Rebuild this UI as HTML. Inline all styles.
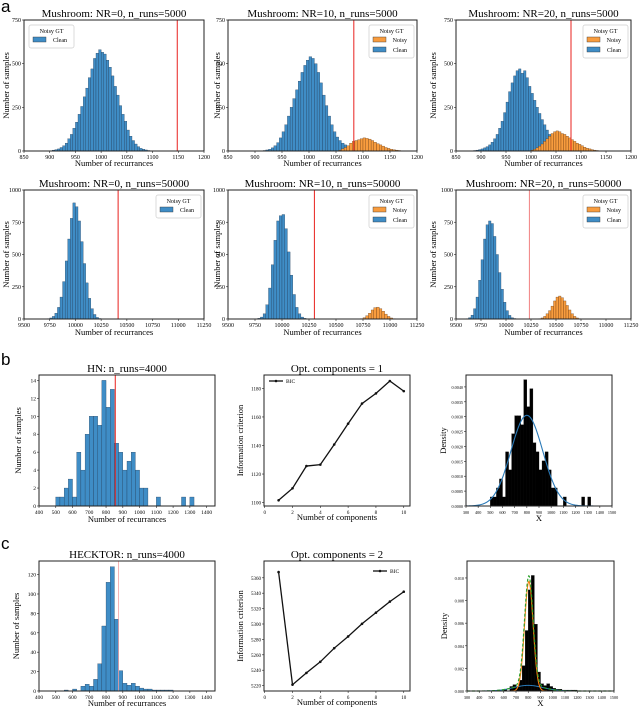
<!DOCTYPE html>
<html><head><meta charset="utf-8"><style>
html,body{margin:0;padding:0;background:#fff;}
svg{display:block;font-family:"Liberation Serif",serif;}
.lab{font-family:"Liberation Sans",sans-serif;font-size:17px;position:absolute;}
</style></head><body>
<div style="position:relative;width:640px;height:710px;">
<div class="lab" style="left:1px;top:-3px">a</div>
<div class="lab" style="left:1px;top:350px">b</div>
<div class="lab" style="left:1px;top:534px">c</div>
<svg id="fig" width="640" height="710" viewBox="0 0 640 710"></svg>
</div>
<script>
// ---------- data ----------
const A1_clean_start=905, A1_step=5;
const A1_clean=[5,8,12,20,30,45,70,95,130,165,210,255,310,360,420,470,530,560,580,565,555,520,480,430,370,320,260,210,170,120,85,60,40,25,15,10,6,3];
const A2_clean_start=915;
const A2_clean=[3,6,10,18,30,48,75,110,150,200,250,300,350,400,450,490,520,540,530,500,450,390,320,260,200,150,110,80,60,45,35,25,15,8,4];
const A2_noisy_start=1055;
const A2_noisy=[5,12,20,30,45,55,60,65,70,75,72,68,60,50,42,35,28,20,15,10,7,5,3,2,1];
const A3_clean_start=880;
const A3_clean=[2,3,5,8,12,18,25,35,50,70,95,130,170,220,280,340,390,430,460,470,445,460,420,370,330,290,250,215,180,150,120,95,75,55,40,28,18,12,8,5,3,2,1,1,0];
const A3_noisy_start=1000;
const A3_noisy=[5,10,18,28,40,55,70,85,100,110,115,110,100,95,85,75,65,55,45,38,30,22,16,12,8,5,3,2,1,1];
const B_step=25;
const B1_clean_start=9725;
const B1_clean=[3,8,20,45,90,170,290,450,620,780,900,870,760,600,430,280,160,80,35,12,4,2,1];
const B2_clean_start=9775;
const B2_clean=[5,15,40,110,240,420,610,760,800,810,700,520,340,190,90,40,15,5];
const B2_noisy_start=10725;
const B2_noisy=[3,10,25,45,70,88,92,80,60,38,20,8,3,1];
const B3_clean_start=9600;
const B3_clean=[3,10,30,80,170,300,460,620,730,760,740,640,500,360,230,130,65,28,10,4];
const B3_noisy_start=10325;
const B3_noisy=[3,8,20,40,65,100,140,170,178,165,140,105,70,40,20,8,3,1];
const redLinesA=[1148,1083,1080];
const redLinesB=[10415,10300,10234];
const HN_start=500, HN_step=25;
const HN_counts=[1,1,2,3,1,6,4,8,10,10,9,14,11,13,7,6,4,5,6,4,2,2,0,0,1,0,0,0,0,0,1,0,1];
const HN_red=855;
const HEC_start=550, HEC_step=25;
const HEC_counts=[1,0,2,0,5,7,5,12,28,67,112,128,74,21,8,6,8,5,3,2,2,1,1,1,1,1];
const HEC_red=875;
const comps=[1,2,3,4,5,6,7,8,9,10];
const BIC_HN=[1101.6,1110,1125.6,1126.6,1140.7,1155.3,1169.4,1176.5,1185.2,1178.1];
const BIC_HEC=[5367.4,5221.2,5236.5,5250.9,5268.6,5283.8,5300.3,5314.7,5329.1,5341.9];
const HN_fit_mean=[800], HN_fit_sd=[131], HN_fit_w=[1];
const HEC_fit_mean=[805,800], HEC_fit_sd=[35,120], HEC_fit_w=[0.85,0.15];
const ticksA_x=[850,900,950,1000,1050,1100,1150,1200];
const ticksA_y=[0,250,500,750];
const ticksB_x=[9500,9750,10000,10250,10500,10750,11000,11250];
const ticksB_y=[0,250,500,750,1000];
const ticksHist_x=[400,500,600,700,800,900,1000,1100,1200,1300,1400];
const ticksHN_y=[0,2,4,6,8,10,12,14];
const ticksHEC_y=[0,20,40,60,80,100,120];
const ticksComp_x=[0,2,4,6,8,10];
const ticksBICHN_y=[1100,1120,1140,1160,1180];
const ticksBICHEC_y=[5220,5240,5260,5280,5300,5320,5340,5360];
const ticksDens_x=[300,400,500,600,700,800,900,1000,1100,1200,1300,1400,1500];
const ticksDensHN_y=[0,0.0005,0.001,0.0015,0.002,0.0025,0.003,0.0035,0.004];
const ticksDensHEC_y=[0,0.002,0.004,0.006,0.008,0.010];

// ---------- helpers ----------
const NS='http://www.w3.org/2000/svg';
const svg=document.getElementById('fig');
function make(tag,attrs,parent){const e=document.createElementNS(NS,tag);for(const k in attrs)e.setAttribute(k,attrs[k]);(parent||svg).appendChild(e);return e;}
function txt(s,x,y,size,anchor,rot,parent){const e=make('text',{x:x,y:y,'font-size':size,'text-anchor':anchor||'middle'},parent);if(rot)e.setAttribute('transform','rotate(-90 '+x+' '+y+')');e.textContent=s;return e;}
const BLUE='#3f8dc6', ORANGE='#f89c3e';

function axes(p){
  const g=make('g',{});
  
  
  const sx=v=>p.x0+(v-p.xd[0])/(p.xd[1]-p.xd[0])*(p.x1-p.x0);
  const sy=v=>p.y1-(v-p.yd[0])/(p.yd[1]-p.yd[0])*(p.y1-p.y0);
  const plot=make('g',{},g);
  
  
  const over=make('g',{},g);
  const frame=make('rect',{x:p.x0,y:p.y0,width:p.x1-p.x0,height:p.y1-p.y0,fill:'none',stroke:'#222','stroke-width':1},over);
  
  
  p.xt.forEach(v=>{
    const X=sx(v);
    const tk=make('line',{x1:X,x2:X,y1:p.y1,y2:p.y1+2,stroke:'#222','stroke-width':0.6},over);
    
    
    const t=txt(p.xf?p.xf(v):String(v),X,p.y1+8,p.tfs||6,'middle',false,over);
    
    
  });
  p.yt.forEach(v=>{
    const Y=sy(v);
    const tk=make('line',{x1:p.x0-2,x2:p.x0,y1:Y,y2:Y,stroke:'#222','stroke-width':0.6},over);
    
    
    const t=txt(p.yf?p.yf(v):String(v),p.x0-3,Y+2,p.tfs||6,'end',false,over);
    
    
  });
  const ti=txt(p.title,(p.x0+p.x1)/2,p.y0-3,11,'middle',false,over);
  
  
  const xl=txt(p.xlabel,(p.x0+p.x1)/2,p.xly,8.5,'middle',false,over);
  
  
  const yl=txt(p.ylabel,p.ylx,(p.y0+p.y1)/2,8.5,'middle',true,over);
  
  
  return {sx,sy,g:plot,over,p};
}
function hist(ax,start,step,counts,fill,stroke,factor,name){
  counts.forEach((c,i)=>{
    if(c<=0)return;
    const v=c*(factor||1);
    const xa=ax.sx(start+i*step), xb=ax.sx(start+(i+1)*step);
    const r=make('rect',{x:xa,y:ax.sy(v),width:Math.max(0.3,xb-xa),height:ax.sy(0)-ax.sy(v),fill:fill,stroke:stroke,'stroke-width':0.3},ax.g);
    
    
  });
}
function vline(ax,v,color,w){
  const l=make('line',{x1:ax.sx(v),x2:ax.sx(v),y1:ax.p.y0,y2:ax.p.y1,stroke:color,'stroke-width':w},ax.g);
  
  
}
function legendGT(ax,x,y,withNoisy){
  const h=withNoisy?33:23;
  const lg=make('g',{},ax.over);
  
  
  make('rect',{x:x,y:y,width:45,height:h,rx:2,fill:'#fff',stroke:'#ccc','stroke-width':0.7},lg);
  txt('Noisy GT',x+22.5,y+8,6,'middle',false,lg);
  let yy=y+12;
  if(withNoisy){
    const e=make('rect',{x:x+4,y:yy,width:13,height:5,fill:ORANGE,stroke:'#333','stroke-width':0.4},lg);
    
    
    txt('Noisy',x+38,yy+5,6,'end',false,lg);
    yy+=10;
  }
  const e2=make('rect',{x:x+4,y:yy,width:13,height:5,fill:BLUE,stroke:'#333','stroke-width':0.4},lg);
  
  
  txt('Clean',x+38,yy+5,6,'end',false,lg);
}
function pdf(x,m,s){return Math.exp(-0.5*((x-m)/s)**2)/(s*Math.sqrt(2*Math.PI));}
function curve(ax,fn,x0,x1,color,w,dash,name){
  let d='';
  for(let x=x0;x<=x1;x+=4){d+=(d?'L':'M')+ax.sx(x).toFixed(2)+','+ax.sy(fn(x)).toFixed(2);}
  const pth=make('path',{d:d,fill:'none',stroke:color,'stroke-width':w},ax.g);
  if(dash)pth.setAttribute('stroke-dasharray',dash);
  
  
}

// ---------- row a ----------
const rowA=[{x0:24,x1:204,ylx:9},{x0:228,x1:417,ylx:220},{x0:456,x1:631,ylx:436}];
const titlesA=['Mushroom: NR=0, n_runs=5000','Mushroom: NR=10, n_runs=5000','Mushroom: NR=20, n_runs=5000'];
const titlesB=['Mushroom: NR=0, n_runs=50000','Mushroom: NR=10, n_runs=50000','Mushroom: NR=20, n_runs=50000'];
const cleanA=[[A1_clean_start,A1_clean],[A2_clean_start,A2_clean],[A3_clean_start,A3_clean]];
const noisyA=[null,[A2_noisy_start,A2_noisy],[A3_noisy_start,A3_noisy]];
const cleanB=[[B1_clean_start,B1_clean],[B2_clean_start,B2_clean],[B3_clean_start,B3_clean]];
const noisyB=[null,[B2_noisy_start,B2_noisy],[B3_noisy_start,B3_noisy]];
for(let i=0;i<3;i++){
  const r=rowA[i];
  const ax=axes({name:'mushroom-5000-panel-'+i,x0:r.x0,x1:r.x1,y0:20,y1:151,xd:[850,1200],yd:[0,750],xt:ticksA_x,yt:ticksA_y,title:titlesA[i],xlabel:'Number of recurrances',xly:166,ylabel:'Number of samples',ylx:r.ylx});
  hist(ax,cleanA[i][0],A1_step,cleanA[i][1],BLUE,'#1d3550',1,'bar-clean');
  if(noisyA[i])hist(ax,noisyA[i][0],A1_step,noisyA[i][1],ORANGE,'#5a3210',1,'bar-noisy');
  vline(ax,redLinesA[i],'#e8211e',1);
  if(i===0)legendGT(ax,29,25,false);else legendGT(ax,r.x1-48,25,true);

  const ax2=axes({name:'mushroom-50000-panel-'+i,x0:r.x0,x1:r.x1,y0:190,y1:319,xd:[9500,11250],yd:[0,1000],xt:ticksB_x,yt:ticksB_y,title:titlesB[i],xlabel:'Number of recurrances',xly:335,ylabel:'Number of samples',ylx:r.ylx});
  hist(ax2,cleanB[i][0],B_step,cleanB[i][1],BLUE,'#1d3550',1,'bar-clean');
  if(noisyB[i])hist(ax2,noisyB[i][0],B_step,noisyB[i][1],ORANGE,'#5a3210',1,'bar-noisy');
  vline(ax2,redLinesB[i],i===2?'#f08080':'#e8211e',1);
  legendGT(ax2,r.x1-48,195,i!==0);
}

// ---------- rows b, c : histograms ----------
const bh=axes({name:'hn-histogram',x0:39,x1:215,y0:375,y1:506,xd:[400,1450],yd:[0,14.6],xt:ticksHist_x,yt:ticksHN_y,title:'HN: n_runs=4000',xlabel:'Number of recurrances',xly:522,ylabel:'Number of samples',ylx:21,tfs:5.5});
hist(bh,HN_start,HN_step,HN_counts,BLUE,'#1d3550',1,'bar-hn');
vline(bh,HN_red,'#e8211e',1);
const ch=axes({name:'hecktor-histogram',x0:39,x1:215,y0:561,y1:691,xd:[400,1450],yd:[0,134],xt:ticksHist_x,yt:ticksHEC_y,title:'HECKTOR: n_runs=4000',xlabel:'Number of recurrances',xly:706,ylabel:'Number of samples',ylx:19,tfs:5.5});
hist(ch,HEC_start,HEC_step,HEC_counts,BLUE,'#1d3550',1,'bar-hecktor');
vline(ch,HEC_red,'#f4a0a0',0.8);

// ---------- BIC line charts ----------
function bicChart(name,y0,y1,yd,yt,vals,title,legX,legY){
  const ax=axes({name:name,x0:264,x1:410,y0:y0,y1:y1,xd:[-0.05,10.45],yd:yd,xt:ticksComp_x,yt:yt,title:title,xlabel:'Number of components',xly:y1+14,ylabel:'Information criterion',ylx:243,tfs:5});
  let d='';
  comps.forEach((c,i)=>{d+=(i?'L':'M')+ax.sx(c)+','+ax.sy(vals[i]);});
  const ln=make('path',{d:d,fill:'none',stroke:'#111','stroke-width':1.3},ax.g);
  
  
  comps.forEach((c,i)=>{
    const pt=make('circle',{cx:ax.sx(c),cy:ax.sy(vals[i]),r:1.3,fill:'#111'},ax.g);
    
    
  });
  const lg=make('g',{},ax.over);
  
  
  make('line',{x1:legX,x2:legX+14,y1:legY,y2:legY,stroke:'#111','stroke-width':1.3},lg);
  make('circle',{cx:legX+7,cy:legY,r:1.3,fill:'#111'},lg);
  txt('BIC',legX+17,legY+2,5.5,'start',false,lg);
}
bicChart('bic-hn',375,506,[1097.6,1189.4],ticksBICHN_y,BIC_HN,'Opt. components = 1',269,381);
bicChart('bic-hecktor',561,691,[5213,5381.8],ticksBICHEC_y,BIC_HEC,'Opt. components = 2',373,571);

// ---------- density charts ----------
const fmt4=v=>v.toFixed(4), fmt3=v=>v.toFixed(3);
const bd=axes({name:'hn-density',x0:466,x1:612,y0:375,y1:506,xd:[300,1500],yd:[0,0.0044],xt:ticksDens_x,yt:ticksDensHN_y,xf:String,yf:fmt4,title:'',xlabel:'X',xly:521,ylabel:'Density',ylx:446,tfs:4.2});
const nHN=HN_counts.reduce((a,b)=>a+b,0);
hist(bd,HN_start,HN_step,HN_counts,'#000','#000',1/(nHN*HN_step),'bar-density-hn');
curve(bd,x=>HN_fit_w[0]*pdf(x,HN_fit_mean[0],HN_fit_sd[0]),300,1500,'#2a7ab8',1.1,null,'gaussian-fit');
const cd=axes({name:'hecktor-density',x0:467,x1:614,y0:561,y1:691,xd:[300,1500],yd:[0,0.0115],xt:ticksDens_x,yt:ticksDensHEC_y,xf:String,yf:fmt3,title:'',xlabel:'X',xly:706,ylabel:'Density',ylx:447,tfs:4.2});
const nHEC=HEC_counts.reduce((a,b)=>a+b,0);
hist(cd,HEC_start,HEC_step,HEC_counts,'#000','#000',1/(nHEC*HEC_step),'bar-density-hecktor');
curve(cd,x=>HEC_fit_w[1]*pdf(x,HEC_fit_mean[1],HEC_fit_sd[1]),300,1500,'#2a7ab8',1,null,'component-broad');
curve(cd,x=>HEC_fit_w[0]*pdf(x,HEC_fit_mean[0],HEC_fit_sd[0]),300,1500,'#ff7f0e',1.1,null,'component-narrow');
curve(cd,x=>HEC_fit_w[0]*pdf(x,HEC_fit_mean[0],HEC_fit_sd[0])+HEC_fit_w[1]*pdf(x,HEC_fit_mean[1],HEC_fit_sd[1]),300,1500,'#2ca02c',1.2,'3,2','mixture-total');
</script>
</body></html>
